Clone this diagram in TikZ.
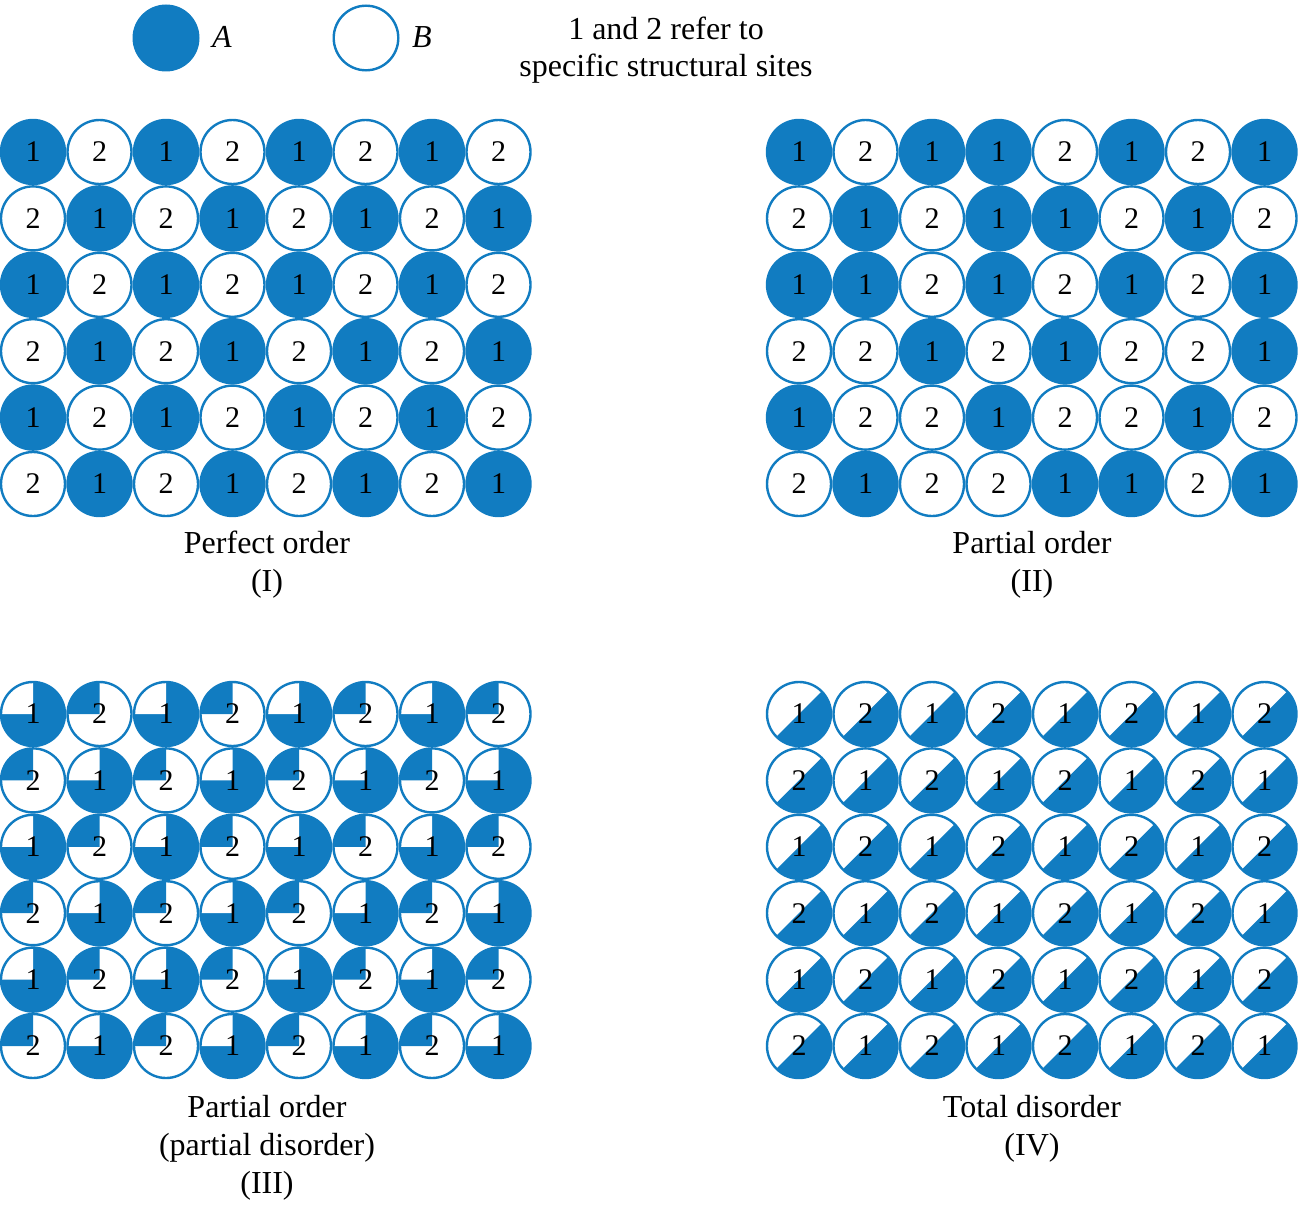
\documentclass[tikz,border=0pt]{standalone}
\usepackage{fontspec}
\setmainfont{Liberation Serif}
\definecolor{sblue}{RGB}{17,124,193}
\tikzset{
  ring/.style={draw=sblue, line width=2.4pt},
  blue fill/.style={fill=sblue},
  digit/.style={font=\fontsize{30}{30}\selectfont, inner sep=0pt, text=black},
  caption/.style={font=\fontsize{32}{38}\selectfont, anchor=base, inner sep=0pt},
}
\begin{document}
\begin{tikzpicture}[x=1pt,y=1pt]
\useasboundingbox (0,0) rectangle (1300,-1204);
\def\R{32}
% ---------- legend ----------
\fill[blue fill] (166,-38) circle (33.5);
\node[caption, font=\fontsize{32}{38}\selectfont\itshape] (legA) at (222,-48) {A};
\draw[ring] (366,-38) circle (32.3);
\node[caption, font=\fontsize{32}{38}\selectfont\itshape] (legB) at (422,-48) {B};
\node[caption] (legT1) at (666,-40) {1 and 2 refer to};
\node[caption] (legT2) at (666,-77) {specific structural sites};
% ---------- grid I : perfect order ----------
\foreach \j in {0,...,5}{
  \foreach \i in {0,...,7}{
    \pgfmathsetmacro\cx{33+66.5*\i}
    \pgfmathsetmacro\cy{-(152+66.4*\j)}
    \pgfmathtruncatemacro\s{ifthenelse(mod(\i+\j,2)==0,1,2)}
    \ifnum\s=1 \fill[blue fill] (\cx,\cy) circle (\R);\fi
    \draw[ring] (\cx,\cy) circle (\R);
    \node[digit] (gI-\i-\j) at (\cx,\cy) {\s};
  }
}
\node[caption] (capI1) at (267,-553) {Perfect order};
\node[caption] (capI2) at (267,-591) {(I)};
% ---------- grid II : partial order ----------
\foreach \row [count=\j from 0] in {{1,2,1,1,2,1,2,1},{2,1,2,1,1,2,1,2},{1,1,2,1,2,1,2,1},{2,2,1,2,1,2,2,1},{1,2,2,1,2,2,1,2},{2,1,2,2,1,1,2,1}}{
  \foreach \s [count=\i from 0] in \row {
    \pgfmathsetmacro\cx{799+66.5*\i}
    \pgfmathsetmacro\cy{-(152+66.4*\j)}
    \ifnum\s=1 \fill[blue fill] (\cx,\cy) circle (\R);\fi
    \draw[ring] (\cx,\cy) circle (\R);
    \node[digit] (gII-\i-\j) at (\cx,\cy) {\s};
  }
}
\node[caption] (capII1) at (1032,-553) {Partial order};
\node[caption] (capII2) at (1032,-591) {(II)};
% ---------- grid III : partial disorder ----------
\foreach \j in {0,...,5}{
  \foreach \i in {0,...,7}{
    \pgfmathsetmacro\cx{33+66.5*\i}
    \pgfmathsetmacro\cy{-(714+66.4*\j)}
    \pgfmathtruncatemacro\s{ifthenelse(mod(\i+\j,2)==0,1,2)}
    \ifnum\s=1
      \fill[blue fill] (\cx,\cy) circle (\R);
      \fill[white] (\cx,\cy) -- ++(180:\R) arc (180:90:\R) -- cycle;
    \else
      \fill[blue fill] (\cx,\cy) -- ++(180:\R) arc (180:90:\R) -- cycle;
    \fi
    \draw[ring] (\cx,\cy) circle (\R);
    \node[digit] (gIII-\i-\j) at (\cx,\cy) {\s};
  }
}
\node[caption] (capIII1) at (267,-1117) {Partial order};
\node[caption] (capIII2) at (267,-1155) {(partial disorder)};
\node[caption] (capIII3) at (267,-1193) {(III)};
% ---------- grid IV : total disorder ----------
\foreach \j in {0,...,5}{
  \foreach \i in {0,...,7}{
    \pgfmathsetmacro\cx{799+66.5*\i}
    \pgfmathsetmacro\cy{-(714+66.4*\j)}
    \pgfmathtruncatemacro\s{ifthenelse(mod(\i+\j,2)==0,1,2)}
    \fill[blue fill] (\cx,\cy) ++(45:\R) arc (45:-135:\R) -- cycle;
    \draw[ring] (\cx,\cy) circle (\R);
    \node[digit] (gIV-\i-\j) at (\cx,\cy) {\s};
  }
}
\node[caption] (capIV1) at (1032,-1117) {Total disorder};
\node[caption] (capIV2) at (1032,-1155) {(IV)};
\end{tikzpicture}
\end{document}
